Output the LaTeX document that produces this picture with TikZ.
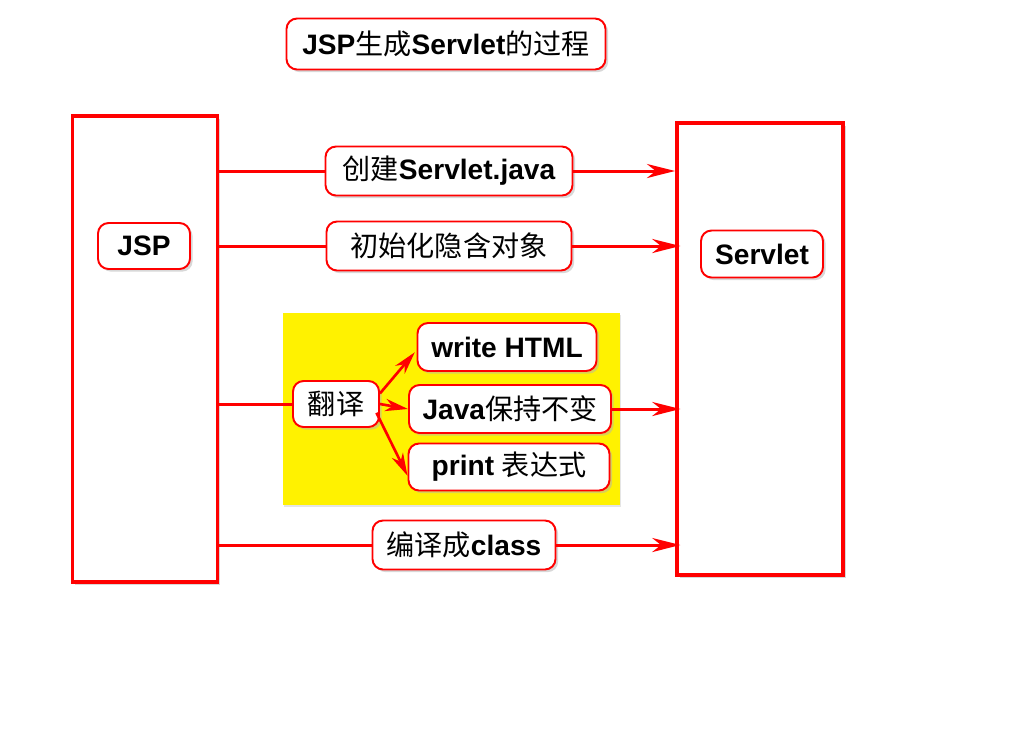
\documentclass[tikz,border=0pt]{standalone}
\usepackage{fontspec}
\setmainfont{Liberation Sans}
\newfontfamily\cjk{Noto Sans CJK SC}
\usetikzlibrary{arrows.meta,shadows}
\newcommand{\zh}[1]{{\cjk\mdseries #1}}

\begin{document}
\begin{tikzpicture}[x=0.02cm, y=-0.02cm,
  bigbox/.style={draw=red, line width=2.2pt, fill=white, inner sep=0pt,
    drop shadow={shadow xshift=1.5pt, shadow yshift=-1.5pt, fill=gray!60}},
  tag/.style={draw=red, line width=1.1pt, fill=white, rounded corners=6pt, inner sep=0pt,
    font=\fontsize{16}{19}\selectfont\bfseries,
    drop shadow={shadow xshift=1.5pt, shadow yshift=-1.5pt, fill=gray!60}},
  link/.style={draw=red, line width=1.7pt},
  tip/.style={link, -{Stealth[length=16pt, width=8pt, inset=5pt]}},
  smalltip/.style={link, line width=1.5pt, -{Stealth[length=13pt, width=7pt, inset=4pt]}}]
\useasboundingbox (0,0) rectangle (1024,738);

\node (title) at (446, 44) [tag, minimum width=319*0.02cm, minimum height=51*0.02cm] {JSP\zh{生成}Servlet\zh{的过程}};

\node (jsp) at (145, 349) [bigbox, minimum width=145*0.02cm, minimum height=466*0.02cm] {};
\node (servlet) at (760, 349) [bigbox, minimum width=166*0.02cm, minimum height=452*0.02cm] {};
\node (jsplabel) at (144, 246) [tag, minimum width=92*0.02cm, minimum height=46*0.02cm] {JSP};
\node (servletlabel) at (762, 254) [tag, minimum width=122*0.02cm, minimum height=47*0.02cm] {Servlet};

\node (yellow) at (451, 409) [fill=yellow, minimum width=337*0.02cm, minimum height=192*0.02cm,
  drop shadow={shadow xshift=1pt, shadow yshift=-1pt, fill=gray!40}] {};

\node (create) at (449, 171) [tag, minimum width=247*0.02cm, minimum height=49*0.02cm] {\zh{创建}Servlet.java};
\node (init) at (449, 246) [tag, minimum width=245*0.02cm, minimum height=49*0.02cm] {\zh{初始化隐含对象}};
\node (translate) at (336, 404) [tag, minimum width=86*0.02cm, minimum height=46*0.02cm] {\zh{翻译}};
\node (write) at (507, 347) [tag, minimum width=179*0.02cm, minimum height=48*0.02cm] {write HTML};
\node (keep) at (510, 409) [tag, minimum width=202*0.02cm, minimum height=48*0.02cm] {Java\zh{保持不变}};
\node (print) at (509, 467) [tag, minimum width=201*0.02cm, minimum height=47*0.02cm] {print \zh{表达式}};
\node (compile) at (464, 545) [tag, minimum width=183*0.02cm, minimum height=49*0.02cm] {\zh{编译成}class};

% jsp to servlet
\draw [link] (create.west -| jsp.east) -- (create.west);
\draw [tip] (create.east) -- (create.east -| servlet.west);
\draw [link] (init.west -| jsp.east) -- (init.west);
\draw [tip] (init.east) -- ([xshift=3pt]init.east -| servlet.west);
\draw [link] (translate.west -| jsp.east) -- (translate.west);
\draw [tip] (keep.east) -- ([xshift=3pt]keep.east -| servlet.west);
\draw [link] (compile.west -| jsp.east) -- (compile.west);
\draw [tip] (compile.east) -- ([xshift=3pt]compile.east -| servlet.west);

% translate
\draw [smalltip] ([yshift=6pt]translate.east) -- ([xshift=-1pt, yshift=-3pt]write.west);
\draw [smalltip] (translate.east) -- (keep.west);
\draw [smalltip] ([xshift=-2pt, yshift=-5pt]translate.east) -- ([yshift=-5pt]print.west);
\end{tikzpicture}
\end{document}
